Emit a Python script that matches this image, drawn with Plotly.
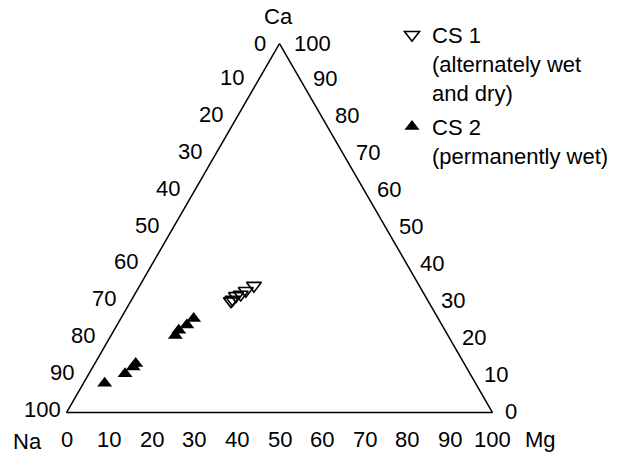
import math
import plotly.graph_objects as go

# ---------------- data (percent) ----------------
cs1_ca = [34.4, 33.0, 32.0, 31.6, 30.6, 30.2]
cs1_na = [38.8, 41.4, 43.1, 44.4, 45.7, 46.3]
cs1_mg = [26.8, 25.6, 24.9, 24.0, 23.7, 23.5]

cs2_ca = [7.9, 10.5, 12.3, 13.3, 20.9, 22.3, 23.7, 25.5]
cs2_na = [87.1, 81.0, 78.2, 77.1, 64.0, 62.5, 59.9, 57.4]
cs2_mg = [5.0, 8.5, 9.5, 9.6, 15.1, 15.2, 16.4, 17.1]

tick_values = [0, 10, 20, 30, 40, 50, 60, 70, 80, 90, 100]
tick_labels = [str(v) for v in tick_values]

series_names = ["CS 1<br>(alternately wet<br>and dry)", "CS 2<br>(permanently wet)"]

# ---------------- geometry ----------------
FIG_W, FIG_H = 619, 454
TRI_W = 426.0
TRI_H = TRI_W * math.sqrt(3) / 2
CX = 279.5
BASE_Y = 412.5
X0 = CX - TRI_W / 2
TOP_Y = BASE_Y - TRI_H

FONT = "Liberation Sans, Arial, Helvetica, sans-serif"
FS = 22


def to_paper(ca, mg):
    x = X0 + (mg + ca / 2.0) / 100.0 * TRI_W
    y = BASE_Y - ca / 100.0 * TRI_H
    return x / FIG_W, 1 - y / FIG_H


fig = go.Figure()

fig.add_trace(go.Scatterternary(
    a=cs1_ca, b=cs1_na, c=cs1_mg, mode="markers", name=series_names[0],
    legendgroup="cs1",
    marker=dict(symbol="triangle-down-open", size=13, color="black",
                line=dict(width=1.6, color="black")),
    cliponaxis=False,
))
fig.add_trace(go.Scatterternary(
    a=cs2_ca, b=cs2_na, c=cs2_mg, mode="markers", name=series_names[1],
    legendgroup="cs2",
    marker=dict(symbol="triangle-up", size=13, color="black"),
    cliponaxis=False,
))

axis_common = dict(showgrid=False, showticklabels=False, ticks="",
                   linecolor="black", linewidth=1.5, title=dict(text=""))

fig.update_layout(
    width=FIG_W, height=FIG_H, autosize=False,
    margin=dict(l=0, r=0, t=0, b=0),
    paper_bgcolor="white",
    font=dict(family=FONT, size=FS, color="black"),
    ternary=dict(
        domain=dict(x=[X0 / FIG_W, (X0 + TRI_W) / FIG_W],
                    y=[1 - BASE_Y / FIG_H, 1 - TOP_Y / FIG_H]),
        bgcolor="white",
        sum=100,
        aaxis=axis_common, baxis=axis_common, caxis=axis_common,
    ),
    showlegend=True,
    legend=dict(x=392 / FIG_W, y=1 - 14 / FIG_H, xanchor="left", yanchor="top",
                bgcolor="rgba(0,0,0,0)", valign="top",
                font=dict(family=FONT, size=FS, color="black"),
                tracegroupgap=3),
)

ann = []
# left edge: Na values (0 at top, 100 at bottom-left)
for v, lab in zip(tick_values, tick_labels):
    x, y = to_paper(100 - v, 0)
    ann.append(dict(x=x, y=y, xref="paper", yref="paper", text=lab, showarrow=False,
                    xanchor="right", yanchor="middle",
                    xshift=-3.5 if v == 100 else -12, yshift=0.5 if v == 0 else 3))
# right edge: Ca values (100 at top, 0 at bottom-right)
for v, lab in zip(tick_values, tick_labels):
    x, y = to_paper(v, 100 - v)
    ann.append(dict(x=x, y=y, xref="paper", yref="paper", text=lab, showarrow=False,
                    xanchor="left", yanchor="middle",
                    xshift=12 if v == 100 else 10.5, yshift=0 if v == 100 else 1.5))
# bottom edge: Mg values (0 at left, 100 at right)
for v, lab in zip(tick_values, tick_labels):
    x, y = to_paper(0, v)
    ann.append(dict(x=x, y=y, xref="paper", yref="paper", text=lab, showarrow=False,
                    xanchor="center", yanchor="middle", yshift=-26.5))

# corner titles
x, y = to_paper(100, 0)
ann.append(dict(x=x, y=y, xref="paper", yref="paper", text="Ca", showarrow=False,
                xanchor="center", yanchor="middle", xshift=-1.5, yshift=27))
x, y = to_paper(0, 0)
ann.append(dict(x=x, y=y, xref="paper", yref="paper", text="Na", showarrow=False,
                xanchor="center", yanchor="middle", xshift=-39, yshift=-29))
x, y = to_paper(0, 100)
ann.append(dict(x=x, y=y, xref="paper", yref="paper", text="Mg", showarrow=False,
                xanchor="left", yanchor="middle", xshift=30, yshift=-26.5))

for a in ann:
    a["font"] = dict(family=FONT, size=FS, color="black")
fig.update_layout(annotations=ann)

fig.write_html("out.html")
